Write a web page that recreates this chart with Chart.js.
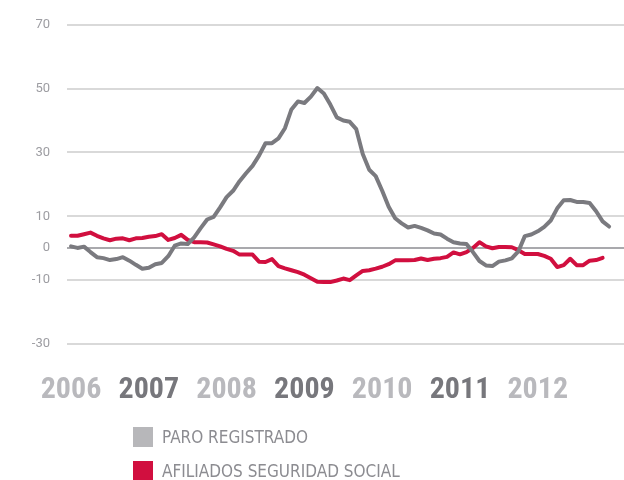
<!DOCTYPE html>
<html>
<head>
<meta charset="utf-8">
<script src="https://cdn.jsdelivr.net/npm/chart.js@4.4.1/dist/chart.umd.min.js"></script>
<style>
  body { margin: 0; background: #fff; }
  #caja { position: relative; width: 624px; height: 480px; }
  #leyenda { position: absolute; left: 133px; top: 427px; font-family: "Liberation Sans Narrow", "DejaVu Sans Condensed", sans-serif; font-size: 17px; color: #8c8c91; }
  #leyenda div { display: flex; align-items: center; height: 20px; margin-bottom: 14px; }
  #leyenda span { display: inline-block; width: 20px; height: 20px; margin-right: 9px; }
</style>
</head>
<body>
<div id="caja">
  <canvas id="grafico"></canvas>
  <div id="leyenda"></div>
</div>
<script>
// EJE X: UN PUNTO POR MES, ENERO 2006 - DICIEMBRE 2012
const anios = ['2006', '2007', '2008', '2009', '2010', '2011', '2012'];
const ticksY = [70, 50, 30, 10, 0, -10, -30];

// VARIACION INTERANUAL (%)
const paro = [
  0.6, 0.1, 0.5, -1.2, -2.8, -3.1, -3.7, -3.4, -2.8, -3.9, -5.2, -6.4,
  -6.1, -5.0, -4.6, -2.5, 0.8, 1.5, 1.3, 3.4, 6.3, 9.0, 9.8, 12.8,
  16.0, 18.0, 21.0, 23.5, 25.8, 29.0, 32.9, 32.9, 34.4, 37.6, 43.5, 46.0,
  45.5, 47.5, 50.2, 48.5, 45.0, 41.0, 40.0, 39.6, 37.3, 29.5, 24.6, 22.6,
  18.0, 13.0, 9.4, 7.8, 6.5, 7.0, 6.4, 5.6, 4.6, 4.3, 3.0, 1.9,
  1.5, 1.3, -1.2, -4.0, -5.4, -5.6, -4.2, -3.8, -3.2, -1.0, 3.8, 4.3,
  5.3, 6.7, 8.7, 12.5, 15.0, 15.1, 14.5, 14.5, 14.2, 11.6, 8.4, 6.8
];
const afiliados = [
  3.9, 3.9, 4.4, 4.9, 3.9, 3.1, 2.5, 3.0, 3.1, 2.5, 3.1, 3.2,
  3.6, 3.8, 4.4, 2.6, 3.2, 4.2, 2.6, 1.9, 1.9, 1.8, 1.2, 0.6,
  -0.2, -0.8, -2.0, -2.0, -2.0, -4.2, -4.3, -3.4, -5.6, -6.3, -6.9, -7.5,
  -8.3, -9.4, -10.5, -10.6, -10.6, -10.1, -9.5, -10.0, -8.5, -7.1, -6.9, -6.4,
  -5.8, -5.0, -3.8, -3.8, -3.8, -3.7, -3.2, -3.7, -3.3, -3.1, -2.7, -1.3,
  -1.9, -1.2, 0.1, 1.9, 0.6, 0.0, 0.4, 0.4, 0.3, -0.6, -1.8, -1.8,
  -1.8, -2.4, -3.3, -5.9, -5.3, -3.3, -5.3, -5.3, -3.9, -3.7, -3.0
];

const puntos = (serie) => serie.map((v, i) => ({ x: i, y: v }));

const ctx = document.getElementById('grafico').getContext('2d');

const grafico = new Chart(ctx, {
  type: 'line',
  data: {
    datasets: [{
      label: 'PARO REGISTRADO',
      data: puntos(paro),
      borderColor: '#7a7a7f',
      cuadro: '#b7b7ba',
      borderWidth: 4
    }, {
      label: 'AFILIADOS SEGURIDAD SOCIAL',
      data: puntos(afiliados),
      borderColor: '#d10f3f',
      cuadro: '#d10f3f',
      borderWidth: 4
    }]
  },
  options: {
    responsive: true,
    maintainAspectRatio: false,
    animation: false,
    layout: { padding: { top: 9, right: 0, left: 0, bottom: 0 } },
    elements: {
      point: { radius: 0 },
      line: { tension: 0, borderCapStyle: 'round', borderJoinStyle: 'round' }
    },
    plugins: {
      legend: { display: false },
      tooltip: { enabled: false }
    },
    scales: {
      x: {
        type: 'linear',
        min: -0.62,
        max: 85.3,
        grid: { display: false },
        border: { display: false },
        afterBuildTicks: (eje) => {
          eje.ticks = anios.map((a, k) => ({ value: k * 12 }));
        },
        afterFit: (eje) => { eje.height = 136; },
        ticks: {
          autoSkip: false,
          maxRotation: 0,
          padding: 20,
          // el peso lleva tambien el ancho condensado
          font: { family: 'Roboto, "DejaVu Sans Condensed", sans-serif', size: 30, weight: '700 condensed' },
          color: (c) => c.index % 2 ? '#77777c' : '#b9b9bd',
          callback: (valor) => anios[valor / 12]
        }
      },
      y: {
        min: -30,
        max: 70,
        border: { display: false },
        afterBuildTicks: (eje) => {
          eje.ticks = ticksY.map(v => ({ value: v }));
        },
        afterFit: (eje) => { eje.width = 67; },
        grid: {
          drawTicks: false,
          color: (c) => c.tick && c.tick.value === 0 ? '#a9a9ad' : '#d9d9d9',
          lineWidth: 2
        },
        ticks: {
          padding: 17,
          font: { family: 'Roboto, sans-serif', size: 13 },
          color: '#9d9da2'
        }
      }
    }
  }
});

// LEYENDA
const leyenda = document.getElementById('leyenda');
grafico.data.datasets.forEach(d => {
  const fila = document.createElement('div');
  const cuadro = document.createElement('span');
  cuadro.style.background = d.cuadro;
  fila.appendChild(cuadro);
  fila.appendChild(document.createTextNode(d.label));
  leyenda.appendChild(fila);
});
</script>
</body>
</html>
